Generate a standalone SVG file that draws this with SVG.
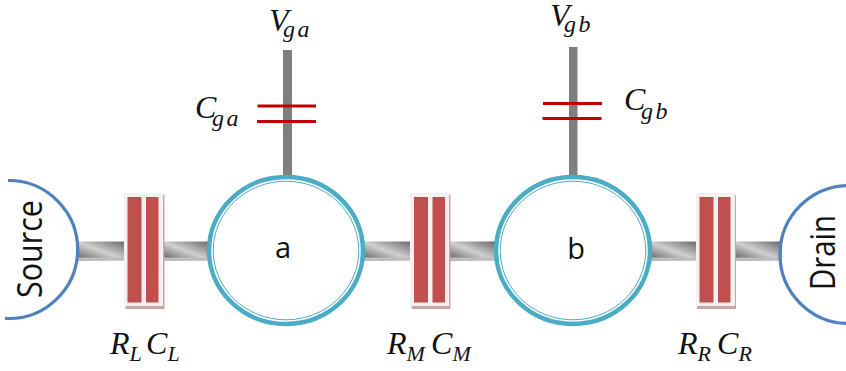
<svg xmlns="http://www.w3.org/2000/svg" width="846" height="371" viewBox="0 0 846 371">
<style>
.m{font-family:"Liberation Serif","DejaVu Serif",serif;font-style:italic;fill:#111;font-size:32px}
.s{font-size:24px;letter-spacing:2.500px}
.c{font-size:22px}
.t{font-family:"Open Sans","Noto Sans",sans-serif;fill:#111}
.lead{fill:url(#steel)}
.strip{fill:#bdbdbd}
.gate{fill:#7f7f7f}
.cap{stroke:#c00000;stroke-width:3.200;fill:none}
.shadow{fill:#c9a5a5}.box{fill:#f3f1f1}.bar{fill:#c0504d}
.ring{fill:#fff;stroke:#4bacc6;stroke-width:4.500}
.inner{fill:none;stroke:#4bacc6;stroke-width:1}
.lobe{fill:none;stroke:#4f81bd;stroke-width:3.200}
</style>
<defs>
<linearGradient id="steel" x1="0" y1="1" x2="1" y2="0">
<stop offset="0" stop-color="#555"/><stop offset="0.5" stop-color="#d0d0d0"/><stop offset="1" stop-color="#666"/>
</linearGradient>
</defs>
<g id="connectors">
<rect class="lead" x="76" y="241.500" width="50" height="19"/><rect class="strip" x="76" y="257.500" width="50" height="3"/>
<rect class="lead" x="162" y="241.500" width="48" height="19"/><rect class="strip" x="162" y="257.500" width="48" height="3"/>
<rect class="lead" x="362" y="241.500" width="50" height="19"/><rect class="strip" x="362" y="257.500" width="50" height="3"/>
<rect class="lead" x="448" y="241.500" width="48" height="19"/><rect class="strip" x="448" y="257.500" width="48" height="3"/>
<rect class="lead" x="648" y="241.500" width="50" height="19"/><rect class="strip" x="648" y="257.500" width="50" height="3"/>
<rect class="lead" x="734" y="241.500" width="48" height="19"/><rect class="strip" x="734" y="257.500" width="48" height="3"/>
<rect class="gate" x="283" y="50" width="9" height="128"/>
<rect class="gate" x="569" y="47" width="8.500" height="129"/>
</g>
<g id="source"><path class="lobe" d="M8 180.500A69 69 0 1 1 5 318.400"/><text class="t" font-size="34" textLength="98" lengthAdjust="spacingAndGlyphs" transform="translate(41.500 298) rotate(-90)">Source</text></g>
<g id="drain"><circle class="lobe" cx="849" cy="254.500" r="69"/><text class="t" font-size="34" textLength="75" lengthAdjust="spacingAndGlyphs" transform="translate(835 290) rotate(-90)">Drain</text></g>
<g id="dot-a"><ellipse class="ring" cx="286" cy="250.500" rx="77" ry="73.500"/><ellipse class="inner" cx="286" cy="250.500" rx="72.800" ry="69.300"/><text class="t" font-size="29" x="283" y="258" text-anchor="middle">a</text></g>
<g id="dot-b"><ellipse class="ring" cx="573" cy="250.500" rx="77" ry="73.500"/><ellipse class="inner" cx="573" cy="250.500" rx="72.800" ry="69.300"/><text class="t" font-size="29" x="576" y="259" text-anchor="middle">b</text></g>
<g id="junction-left"><rect class="shadow" x="125.500" y="195" width="39" height="114"/><rect class="box" x="124" y="193" width="39" height="113"/><rect class="bar" x="127.500" y="197" width="14" height="105.500"/><rect class="bar" x="146" y="197" width="12.500" height="105.500"/></g>
<g id="junction-middle"><rect class="shadow" x="411.500" y="195" width="39" height="114"/><rect class="box" x="410" y="193" width="39" height="113"/><rect class="bar" x="414" y="197" width="14" height="105.500"/><rect class="bar" x="432.500" y="197" width="12.500" height="105.500"/></g>
<g id="junction-right"><rect class="shadow" x="697" y="195" width="39" height="114"/><rect class="box" x="696" y="193" width="39" height="113"/><rect class="bar" x="699.500" y="197" width="14" height="105.500"/><rect class="bar" x="718" y="197" width="12.500" height="105.500"/></g>
<g id="gate-cap-a"><line class="cap" x1="257.500" y1="106" x2="316" y2="106"/><line class="cap" x1="257" y1="121.500" x2="316" y2="121.500"/></g>
<g id="gate-cap-b"><line class="cap" x1="543" y1="103.500" x2="602" y2="103.500"/><line class="cap" x1="542.500" y1="118.500" x2="601.500" y2="118.500"/></g>
<g id="labels">
<text class="m" x="269" y="31">V<tspan class="s" x="283" y="37">ga</tspan></text>
<text class="m" x="550" y="26">V<tspan class="s" x="564" y="32">gb</tspan></text>
<text class="m" x="195" y="118">C<tspan class="s" x="212" y="126">ga</tspan></text>
<text class="m" x="624" y="110">C<tspan class="s" x="641" y="119">gb</tspan></text>
<text class="m" x="110" y="354">R<tspan class="c" x="129.500" y="361">L</tspan><tspan x="146" y="354">C</tspan><tspan class="c" x="167.500" y="361">L</tspan></text>
<text class="m" x="387" y="354">R<tspan class="c" x="406.500" y="361">M</tspan><tspan x="431" y="354">C</tspan><tspan class="c" x="452.500" y="361">M</tspan></text>
<text class="m" x="678" y="354">R<tspan class="c" x="697.500" y="361">R</tspan><tspan x="717" y="354">C</tspan><tspan class="c" x="738.500" y="361">R</tspan></text>
</g>
</svg>
